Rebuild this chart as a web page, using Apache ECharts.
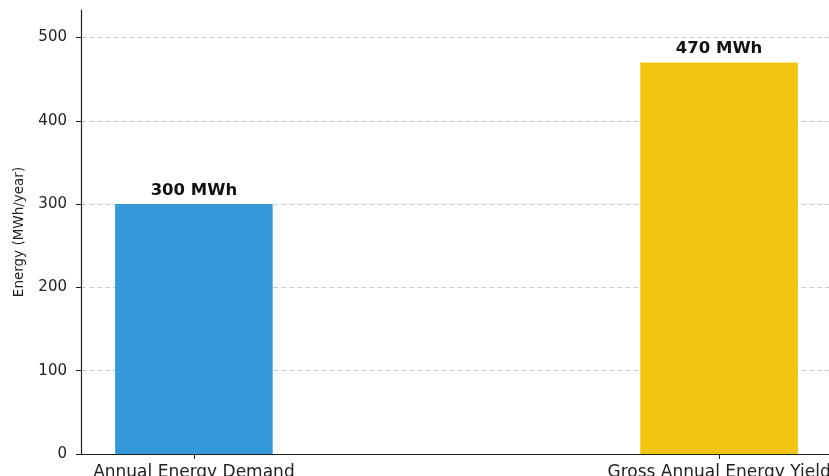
<!DOCTYPE html>
<html>
<head>
<meta charset="utf-8">
<script src="https://cdn.jsdelivr.net/npm/echarts@6/dist/echarts.min.js"></script>
<style>html,body{margin:0;padding:0;background:#fff}#c{width:829px;height:476px}</style>
</head>
<body>
<div id="c"></div>
<script>
const categories = ["Annual Energy Demand", "Gross Annual Energy Yield"];
const positions = [0, 1];
const values = [300, 470];
const colors = ["#3498db", "#f1c40f"];
const yTicks = [0, 100, 200, 300, 400, 500];
const yMax = 533;
const xMin = -0.215, xMax = 1.215;

const gridLeft = 81, gridTop = 10, gridWidth = 751, gridBottom = 22;
const barPx = 0.3 * gridWidth / (xMax - xMin);

const chart = echarts.init(document.getElementById('c'));
chart.setOption({
  animation: false,
  grid: { left: gridLeft, top: gridTop, width: gridWidth, bottom: gridBottom, containLabel: false, outerBoundsMode: 'none' },
  xAxis: {
    type: 'value', min: xMin, max: xMax,
    axisLine: { show: true, onZero: false, lineStyle: { color: '#222', width: 1.2 } },
    axisTick: { show: true, customValues: positions, length: 5, lineStyle: { color: '#222' } },
    axisLabel: {
      customValues: positions, margin: 10, hideOverlap: false,
      formatter: v => categories[positions.indexOf(Math.round(v))] || '',
      fontFamily: 'DejaVu Sans', fontSize: 17, color: '#222'
    },
    splitLine: { show: false }
  },
  yAxis: {
    type: 'value', min: 0, max: yMax,
    name: 'Energy (MWh/year)', nameLocation: 'middle', nameGap: 55,
    nameTextStyle: { fontFamily: 'DejaVu Sans', fontSize: 13.5, color: '#222' },
    axisLine: { show: true, onZero: false, lineStyle: { color: '#222', width: 1.2 } },
    axisTick: { show: true, customValues: yTicks, length: 5, lineStyle: { color: '#222' } },
    axisLabel: {
      customValues: yTicks, margin: 14,
      fontFamily: 'DejaVu Sans', fontSize: 15, color: '#222'
    },
    splitLine: { show: true, lineStyle: { color: '#cccccc', type: [5, 3], width: 1 } }
  },
  series: [{
    type: 'bar',
    barWidth: barPx,
    data: positions.map((p, i) => ({ value: [p, values[i]], itemStyle: { color: colors[i] } })),
    label: {
      show: true, position: 'top', distance: 5,
      formatter: p => p.value[1] + ' MWh',
      fontFamily: 'DejaVu Sans', fontWeight: 'bold', fontSize: 16.5, color: '#111'
    }
  }]
});
</script>
</body>
</html>
